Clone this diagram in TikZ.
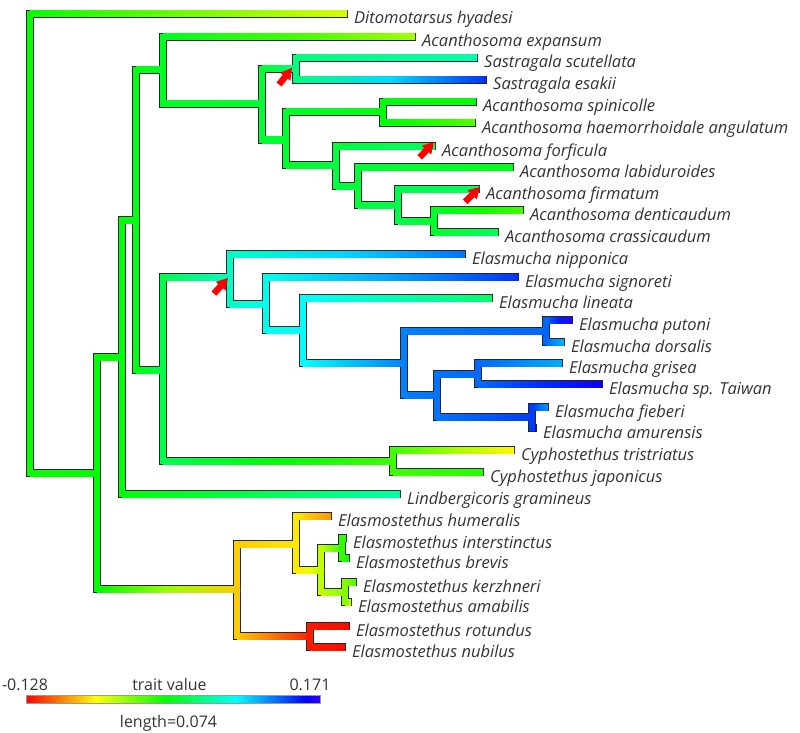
\documentclass[tikz,border=0pt]{standalone}
\usepackage{fontspec}
\setmainfont{Open Sans}
\usetikzlibrary{calc}
\pgfdeclarelayer{bg}
\pgfsetlayers{bg,main}
\pgfdeclarehorizontalshading{rainbowbar}{100bp}{rgb(0bp)=(1,0,0); rgb(25bp)=(1,0,0); rgb(36.905bp)=(1,1,0); rgb(48.81bp)=(0,1,0); rgb(60.714bp)=(0,1,1); rgb(72.619bp)=(0,0,1); rgb(75bp)=(0.2,0,1); rgb(100bp)=(0.2,0,1)}
\tikzset{
  lab/.style={anchor=base west, inner sep=0pt, font=\fontsize{16.5}{18}\selectfont\itshape, text=black!80},
  leg/.style={anchor=base, inner sep=0pt, font=\fontsize{16}{18}\selectfont, text=black!80},
  outl/.style={line width=8pt, line cap=rect, draw=black!85},
}
% colour #1 := hue #2 (degrees), full saturation and value
\newcommand\huecol[2]{%
  \pgfmathsetmacro\hsix{(#2)/60}%
  \pgfmathsetmacro\colR{min(1,max(0,abs(\hsix-3)-1))}%
  \pgfmathsetmacro\colG{min(1,max(0,2-abs(\hsix-2)))}%
  \pgfmathsetmacro\colB{min(1,max(0,2-abs(\hsix-4)))}%
  \definecolor{#1}{rgb}{\colR,\colG,\colB}%
}
% horizontal branch from parent #1 to child #2, hue #3 -> #4
\newcommand\hbr[4]{%
  \huecol{cA}{#3}\huecol{cB}{(3*#3+#4)/4}\huecol{cC}{(#3+#4)/2}\huecol{cD}{(#3+3*#4)/4}\huecol{cE}{#4}%
  \begin{pgfonlayer}{bg}\draw[outl] (#1 |- #2) -- (#2);\end{pgfonlayer}%
  \coordinate (hbrmid) at ($(#1 |- #2)!0.5!(#2)$);%
  \shade[left color=cA, middle color=cB, right color=cC] ($(#1 |- #2)+(0,-3)$) rectangle ($(hbrmid)+(0.5,3)$);
  \shade[left color=cC, middle color=cD, right color=cE] ($(hbrmid)+(0,-3)$) rectangle ($(#2)+(3,3)$);
}
% vertical connector of node #1 between children #2 and #3, hue #4
\newcommand\vbr[4]{%
  \huecol{cV}{#4}%
  \begin{pgfonlayer}{bg}\draw[outl] (#1 |- #2) -- (#1 |- #3);\end{pgfonlayer}%
  \draw[cV, line width=6pt, line cap=rect] (#1 |- #2) -- (#1 |- #3);
}
\newcommand\redarr[2]{%
  \fill[red, shift={(#1)}, rotate=#2] (0pt,0pt) -- (-11pt,6.5pt) -- (-11pt,3.2pt) -- (-21pt,3.2pt) -- (-21pt,-3.2pt) -- (-11pt,-3.2pt) -- (-11pt,-6.5pt) -- cycle;
}
\begin{document}
\begin{tikzpicture}[x=1pt,y=-1pt]
\useasboundingbox (0,0) rectangle (800,733);
% tips
\coordinate (t1) at (344,14);
\coordinate (t2) at (412,37);
\coordinate (t3) at (474,58);
\coordinate (t4) at (483,80);
\coordinate (t5) at (473,102);
\coordinate (t6) at (472,123);
\coordinate (t7) at (432,146);
\coordinate (t8) at (510,167);
\coordinate (t9) at (476,189);
\coordinate (t10) at (520,210);
\coordinate (t11) at (495,232);
\coordinate (t12) at (462,254);
\coordinate (t13) at (515,277);
\coordinate (t14) at (489,298);
\coordinate (t15) at (569,320);
\coordinate (t16) at (561,342);
\coordinate (t17) at (559,363);
\coordinate (t18) at (599,384);
\coordinate (t19) at (545,407);
\coordinate (t20) at (533,428);
\coordinate (t21) at (511,450);
\coordinate (t22) at (480,472);
\coordinate (t23) at (397,494);
\coordinate (t24) at (328,516);
\coordinate (t25) at (343,538);
\coordinate (t26) at (346,558);
\coordinate (t27) at (353,582);
\coordinate (t28) at (348,602);
\coordinate (t29) at (346,626);
\coordinate (t30) at (342,647);
% internal nodes
\coordinate (nRoot) at (30,243.5);
\coordinate (nA) at (97,473);
\coordinate (nB) at (122,357);
\coordinate (nC) at (136,220);
\coordinate (nD) at (163,70);
\coordinate (nG) at (262,104);
\coordinate (nH) at (296,69);
\coordinate (nI) at (286,140);
\coordinate (nJ) at (383,112);
\coordinate (nK) at (336,165);
\coordinate (nL) at (358,186);
\coordinate (nM) at (398,205);
\coordinate (nN) at (434,221);
\coordinate (nF) at (163,370);
\coordinate (nO) at (230,277);
\coordinate (nP) at (266,304);
\coordinate (nQ) at (303,330);
\coordinate (nR) at (404,363);
\coordinate (nT) at (546,331);
\coordinate (nU) at (437,395);
\coordinate (nV) at (478,374);
\coordinate (nW) at (532,417);
\coordinate (nS) at (393,461);
\coordinate (nE) at (237,589);
\coordinate (nX) at (296,544);
\coordinate (nZ) at (321,570);
\coordinate (nZa) at (342,548);
\coordinate (nZb) at (345,592);
\coordinate (nY) at (310,636);
% branches
\hbr{nRoot}{t1}{118}{70}\hbr{nRoot}{nA}{118}{120}\vbr{nRoot}{t1}{nA}{118}
\hbr{nA}{nB}{120}{122}\hbr{nA}{nE}{120}{48}\vbr{nA}{nB}{nE}{120}
\hbr{nB}{nC}{122}{125}\hbr{nB}{t23}{122}{158}\vbr{nB}{nC}{t23}{122}
\hbr{nC}{nD}{125}{128}\hbr{nC}{nF}{125}{138}\vbr{nC}{nD}{nF}{125}
\hbr{nD}{t2}{128}{82}\hbr{nD}{nG}{128}{132}\vbr{nD}{t2}{nG}{128}
\hbr{nG}{nH}{132}{150}\hbr{nG}{nI}{132}{130}\vbr{nG}{nH}{nI}{132}
\hbr{nH}{t3}{150}{160}\hbr{nH}{t4}{150}{228}\vbr{nH}{t3}{t4}{150}
\hbr{nI}{nJ}{130}{124}\hbr{nI}{nK}{130}{135}\vbr{nI}{nJ}{nK}{130}
\hbr{nJ}{t5}{124}{120}\hbr{nJ}{t6}{124}{100}\vbr{nJ}{t5}{t6}{124}
\hbr{nK}{t7}{135}{142}\hbr{nK}{nL}{135}{134}\vbr{nK}{t7}{nL}{135}
\hbr{nL}{t8}{134}{126}\hbr{nL}{nM}{134}{137}\vbr{nL}{t8}{nM}{134}
\hbr{nM}{t9}{137}{142}\hbr{nM}{nN}{137}{130}\vbr{nM}{t9}{nN}{137}
\hbr{nN}{t10}{130}{105}\hbr{nN}{t11}{130}{142}\vbr{nN}{t10}{t11}{130}
\hbr{nF}{nO}{138}{167}\hbr{nF}{nS}{138}{105}\vbr{nF}{nO}{nS}{138}
\hbr{nO}{t12}{167}{213}\hbr{nO}{nP}{167}{175}\vbr{nO}{t12}{nP}{167}
\hbr{nP}{t13}{175}{228}\hbr{nP}{nQ}{175}{180}\vbr{nP}{t13}{nQ}{175}
\hbr{nQ}{t14}{180}{145}\hbr{nQ}{nR}{180}{210}\vbr{nQ}{t14}{nR}{180}
\hbr{nR}{nT}{210}{216}\hbr{nR}{nU}{210}{213}\vbr{nR}{nT}{nU}{210}
\hbr{nT}{t15}{216}{248}\hbr{nT}{t16}{216}{198}\vbr{nT}{t15}{t16}{216}
\hbr{nU}{nV}{213}{215}\hbr{nU}{nW}{213}{226}\vbr{nU}{nV}{nW}{213}
\hbr{nV}{t17}{215}{200}\hbr{nV}{t18}{215}{243}\vbr{nV}{t17}{t18}{215}
\hbr{nW}{t19}{226}{205}\hbr{nW}{t20}{226}{245}\vbr{nW}{t19}{t20}{226}
\hbr{nS}{t21}{105}{58}\hbr{nS}{t22}{105}{112}\vbr{nS}{t21}{t22}{105}
\hbr{nE}{nX}{48}{55}\hbr{nE}{nY}{48}{6}\vbr{nE}{nX}{nY}{48}
\hbr{nX}{t24}{55}{35}\hbr{nX}{nZ}{55}{75}\vbr{nX}{t24}{nZ}{55}
\hbr{nZ}{nZa}{75}{108}\hbr{nZ}{nZb}{75}{88}\vbr{nZ}{nZa}{nZb}{75}
\hbr{nZa}{t25}{108}{112}\hbr{nZa}{t26}{108}{118}\vbr{nZa}{t25}{t26}{108}
\hbr{nZb}{t27}{88}{100}\hbr{nZb}{t28}{88}{72}\vbr{nZb}{t27}{t28}{88}
\hbr{nY}{t29}{6}{2}\hbr{nY}{t30}{6}{3}\vbr{nY}{t29}{t30}{6}
% labels
\node[lab] (L1) at ([xshift=10pt,yshift=-10pt]t1) {Ditomotarsus hyadesi};
\node[lab] (L2) at ([xshift=10pt,yshift=-10pt]t2) {Acanthosoma expansum};
\node[lab] (L3) at ([xshift=10pt,yshift=-10pt]t3) {Sastragala scutellata};
\node[lab] (L4) at ([xshift=10pt,yshift=-10pt]t4) {Sastragala esakii};
\node[lab] (L5) at ([xshift=10pt,yshift=-10pt]t5) {Acanthosoma spinicolle};
\node[lab] (L6) at ([xshift=10pt,yshift=-10pt]t6) {Acanthosoma haemorrhoidale angulatum};
\node[lab] (L7) at ([xshift=10pt,yshift=-10pt]t7) {Acanthosoma forficula};
\node[lab] (L8) at ([xshift=10pt,yshift=-10pt]t8) {Acanthosoma labiduroides};
\node[lab] (L9) at ([xshift=10pt,yshift=-10pt]t9) {Acanthosoma firmatum};
\node[lab] (L10) at ([xshift=10pt,yshift=-10pt]t10) {Acanthosoma denticaudum};
\node[lab] (L11) at ([xshift=10pt,yshift=-10pt]t11) {Acanthosoma crassicaudum};
\node[lab] (L12) at ([xshift=10pt,yshift=-10pt]t12) {Elasmucha nipponica};
\node[lab] (L13) at ([xshift=10pt,yshift=-10pt]t13) {Elasmucha signoreti};
\node[lab] (L14) at ([xshift=10pt,yshift=-10pt]t14) {Elasmucha lineata};
\node[lab] (L15) at ([xshift=10pt,yshift=-10pt]t15) {Elasmucha putoni};
\node[lab] (L16) at ([xshift=10pt,yshift=-10pt]t16) {Elasmucha dorsalis};
\node[lab] (L17) at ([xshift=10pt,yshift=-10pt]t17) {Elasmucha grisea};
\node[lab] (L18) at ([xshift=10pt,yshift=-10pt]t18) {Elasmucha sp. Taiwan};
\node[lab] (L19) at ([xshift=10pt,yshift=-10pt]t19) {Elasmucha fieberi};
\node[lab] (L20) at ([xshift=10pt,yshift=-10pt]t20) {Elasmucha amurensis};
\node[lab] (L21) at ([xshift=10pt,yshift=-10pt]t21) {Cyphostethus tristriatus};
\node[lab] (L22) at ([xshift=10pt,yshift=-10pt]t22) {Cyphostethus japonicus};
\node[lab] (L23) at ([xshift=10pt,yshift=-10pt]t23) {Lindbergicoris gramineus};
\node[lab] (L24) at ([xshift=10pt,yshift=-10pt]t24) {Elasmostethus humeralis};
\node[lab] (L25) at ([xshift=10pt,yshift=-10pt]t25) {Elasmostethus interstinctus};
\node[lab] (L26) at ([xshift=10pt,yshift=-10pt]t26) {Elasmostethus brevis};
\node[lab] (L27) at ([xshift=10pt,yshift=-10pt]t27) {Elasmostethus kerzhneri};
\node[lab] (L28) at ([xshift=10pt,yshift=-10pt]t28) {Elasmostethus amabilis};
\node[lab] (L29) at ([xshift=10pt,yshift=-10pt]t29) {Elasmostethus rotundus};
\node[lab] (L30) at ([xshift=10pt,yshift=-10pt]t30) {Elasmostethus nubilus};
% red arrows
\coordinate (a1) at (292,68);
\coordinate (a2) at (434,142);
\coordinate (a3) at (480,187);
\coordinate (a4) at (228,278);
\redarr{a1}{52}\redarr{a2}{47}\redarr{a3}{45}\redarr{a4}{48}
% legend
\shade[shading=rainbowbar, draw=black!40, line width=0.6pt] (26,695) rectangle (320,703);
\node[leg] (lmin) at (25,690) {-0.128};
\node[leg] (ltv) at (169.5,690) {trait value};
\node[leg] (lmax) at (310,690) {0.171};
\node[leg] (llen) at (168.5,727) {length=0.074};
\end{tikzpicture}
\end{document}
